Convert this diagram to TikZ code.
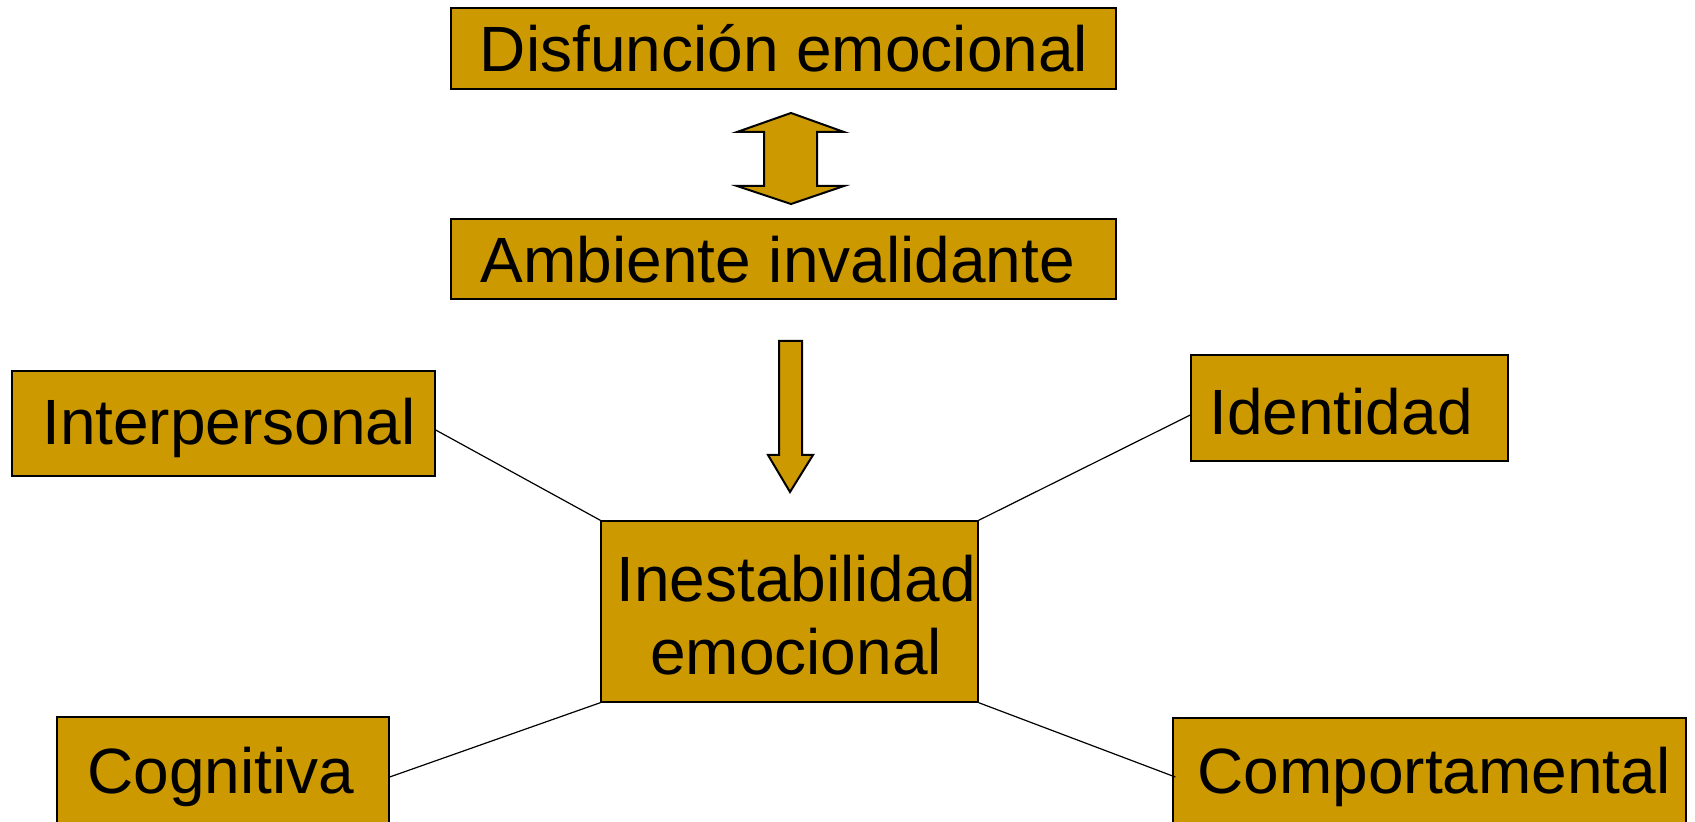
\documentclass[tikz,border=0pt]{standalone}
\usepackage{fontspec}
\setmainfont{Liberation Sans}
\definecolor{gold}{RGB}{204,153,0}
\tikzset{
  box/.style={draw=black, fill=gold, line width=0.7pt, inner sep=0pt},
  lbl/.style={font=\fontsize{32}{36.75}\selectfont, inner sep=0pt, align=center, text=black},
  link/.style={draw=black, line width=0.6pt},
  bigarrow/.style={draw=black, fill=gold, line width=1pt, line join=miter}
}
\begin{document}
\begin{tikzpicture}[x=0.5pt, y=-0.5pt]
\clip (0,0) rectangle (1695,822);
\fill[white] (0,0) rectangle (1695,822);
% boxes
\node[box, minimum width=332.5pt, minimum height=40.5pt] (dis) at (783.5,48.5) {};
\node[box, minimum width=332.5pt, minimum height=40pt] (amb) at (783.5,259) {};
\node[box, minimum width=211.5pt, minimum height=52.5pt] (inter) at (223.5,423.5) {};
\node[box, minimum width=158.5pt, minimum height=53pt] (iden) at (1349.5,408) {};
\node[box, minimum width=188.5pt, minimum height=90.5pt] (ine) at (789.5,611.5) {};
\node[box, minimum width=166pt, minimum height=56.5pt] (cog) at (223,773.5) {};
\node[box, minimum width=256.5pt, minimum height=56pt] (comp) at (1429.5,774) {};
% texts
\node[lbl] (tdis) at (784,48) {Disfunción emocional};
\node[lbl] (tamb) at (778,260) {Ambiente invalidante};
\node[lbl] (tinter) at (229,428) {Interpersonal};
\node[lbl] (tiden) at (1341,412) {Identidad};
\node[lbl] (tine) at (796,615) {Inestabilidad\\emocional};
\node[lbl] (tcog) at (221,777) {Cognitiva};
\node[lbl] (tcomp) at (1434,777) {Comportamental};
% connectors
\draw[link] ([yshift=-3.25pt]inter.east) -- (ine.north west);
\draw[link] ([yshift=-3.5pt]iden.west) -- (ine.north east);
\draw[link] ([yshift=-1.75pt]cog.east) -- (ine.south west);
\draw[link] ([xshift=1.5pt,yshift=-1.5pt]comp.west) -- (ine.south east);
% double arrow between dis and amb
\draw[bigarrow] (791,113) -- (844,132) -- (817,132) -- (817,186) -- (844,186) -- (791,204)
  -- (737,186) -- (764,186) -- (764,132) -- (737,132) -- cycle;
% down arrow from amb to ine
\draw[bigarrow] (779,341) -- (802,341) -- (802,455) -- (813,455) -- (790,492) -- (768,455) -- (779,455) -- cycle;
\end{tikzpicture}
\end{document}
